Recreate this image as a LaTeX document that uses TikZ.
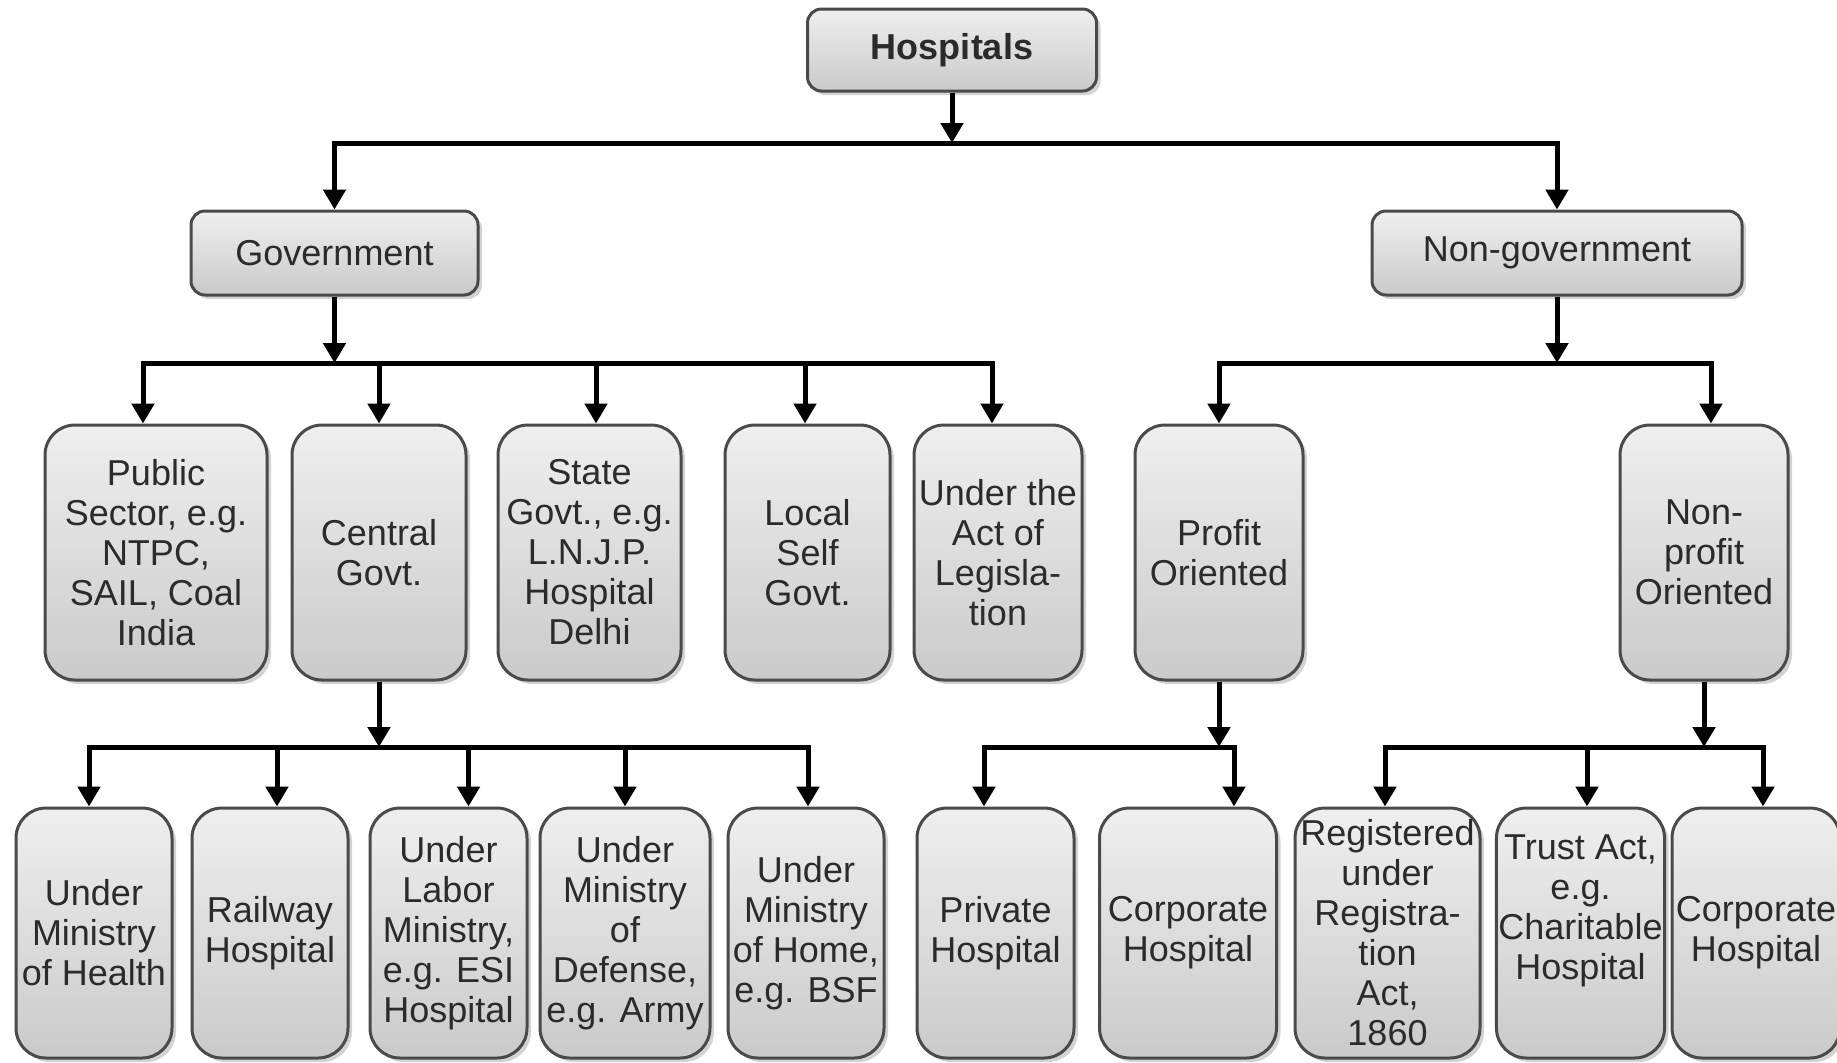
\documentclass[tikz,border=0pt]{standalone}
\usepackage{fontspec}
\setmainfont{Liberation Sans}
\usetikzlibrary{arrows.meta,shadows}
\definecolor{bxline}{HTML}{4A4A4A}
\definecolor{bxtop}{HTML}{EFEFEF}
\definecolor{bxbot}{HTML}{CACACA}
\definecolor{bxtext}{HTML}{2B2B2B}
\tikzstyle{bx}=[draw=bxline,line width=1.5pt,rounded corners=7pt,top color=bxtop,bottom color=bxbot,text=bxtext,font=\fontsize{18}{20}\selectfont,align=center,inner sep=1pt,drop shadow={shadow xshift=2pt,shadow yshift=-2pt,opacity=.35}]
\tikzstyle{midbx}=[bx,rounded corners=15pt,minimum height=127.5pt]
\tikzstyle{lowbx}=[bx,rounded corners=15pt,minimum height=125pt]
\tikzstyle{ln}=[line width=2.5pt,line cap=rect]
\tikzstyle{ar}=[line width=2.5pt,-{Triangle[width=11pt,length=10pt]}]

\begin{document}
\begin{tikzpicture}[x=0.5pt,y=-0.5pt]
\useasboundingbox (0,0) rectangle (1837,1062);
% top levels
\node[bx,font=\fontsize{18}{20}\selectfont\bfseries,minimum width=144.5pt,minimum height=41pt] (hosp) at (952,50) {Hospitals};
\node[bx,minimum width=143.5pt,minimum height=42pt] (gov) at (334.5,253) {Government};
\node[bx,minimum width=185pt,minimum height=42pt] (ngov) at (1557,253) {Non-government};
% second level
\node[midbx,minimum width=111pt] (pub) at (156,552.5) {Public\\Sector, e.g.\\NTPC,\\SAIL, Coal\\India};
\node[midbx,minimum width=87pt] (cen) at (379,552.5) {Central\\Govt.};
\node[midbx,minimum width=91.5pt] (state) at (589.5,552.5) {State\\Govt., e.g.\\L.N.J.P.\\Hospital\\Delhi};
\node[midbx,minimum width=82.5pt] (local) at (807.5,552.5) {Local\\Self\\Govt.};
\node[midbx,minimum width=84pt] (act) at (998,552.5) {Under the\\Act of\\Legisla-\\tion};
\node[midbx,minimum width=84pt] (prof) at (1219,552.5) {Profit\\Oriented};
\node[midbx,minimum width=84pt] (nprof) at (1704,552.5) {Non-\\profit\\Oriented};
% third level
\node[lowbx,minimum width=78pt] (health) at (94,933) {Under\\Ministry\\of Health};
\node[lowbx,minimum width=78pt] (rail) at (270,933) {Railway\\Hospital};
\node[lowbx,minimum width=78.5pt] (labor) at (448.5,933) {Under\\Labor\\Ministry,\\e.g. ESI\\Hospital};
\node[lowbx,minimum width=85pt] (def) at (625,933) {Under\\Ministry\\of\\Defense,\\e.g. Army};
\node[lowbx,minimum width=78pt] (home) at (806,933) {Under\\Ministry\\of Home,\\e.g. BSF};
\node[lowbx,minimum width=78.5pt] (priv) at (995.5,933) {Private\\Hospital};
\node[lowbx,minimum width=88.5pt] (corp) at (1188,933) {Corporate\\Hospital};
\node[lowbx,minimum width=92.5pt] (reg) at (1387.5,933) {Registered\\under\\Registra-\\tion\\Act,\\1860};
\node[lowbx,minimum width=83.5pt] (trust) at (1580.5,933) {Trust Act,\\e.g.\\Charitable\\Hospital\\[6pt]\mbox{}};
\node[lowbx,minimum width=84pt] (corp2) at (1756,933) {Corporate\\Hospital};

% connectors
\coordinate (b0) at (0,143);
\coordinate (b1) at (0,363);
\coordinate (b2) at (0,747);

\draw[ln] (gov |- b0) -- (ngov |- b0);
\draw[ar] (hosp.south) -- (hosp.south |- b0);
\foreach \n in {gov,ngov} \draw[ar] (\n |- b0) -- (\n.north);

\foreach \n/\dx in {pub/-6.5,cen/0,state/3.25,local/-1.25,act/-3,prof/0,nprof/3.5,
  health/-2.5,rail/3.5,labor/10,def/0,home/1,priv/-5.75,corp/23,reg/-1.25,trust/3.25,corp2/3.5}
  \coordinate (\n-in) at ([xshift=\dx pt]\n.north);

\draw[ln] (pub-in |- b1) -- (act-in |- b1);
\draw[ar] (gov.south) -- (gov.south |- b1);
\foreach \n in {pub,cen,state,local,act} \draw[ar] (\n-in |- b1) -- (\n-in);

\draw[ln] (prof-in |- b1) -- (nprof-in |- b1);
\draw[ar] (ngov.south) -- (ngov.south |- b1);
\foreach \n in {prof,nprof} \draw[ar] (\n-in |- b1) -- (\n-in);

\draw[ln] (health-in |- b2) -- (home-in |- b2);
\draw[ar] (cen.south) -- (cen.south |- b2);
\foreach \n in {health,rail,labor,def,home} \draw[ar] (\n-in |- b2) -- (\n-in);

\draw[ln] (priv-in |- b2) -- (corp-in |- b2);
\draw[ar] (prof.south) -- (prof.south |- b2);
\foreach \n in {priv,corp} \draw[ar] (\n-in |- b2) -- (\n-in);

\draw[ln] (reg-in |- b2) -- (corp2-in |- b2);
\draw[ar] (nprof.south) -- (nprof.south |- b2);
\foreach \n in {reg,trust,corp2} \draw[ar] (\n-in |- b2) -- (\n-in);
\end{tikzpicture}
\end{document}
